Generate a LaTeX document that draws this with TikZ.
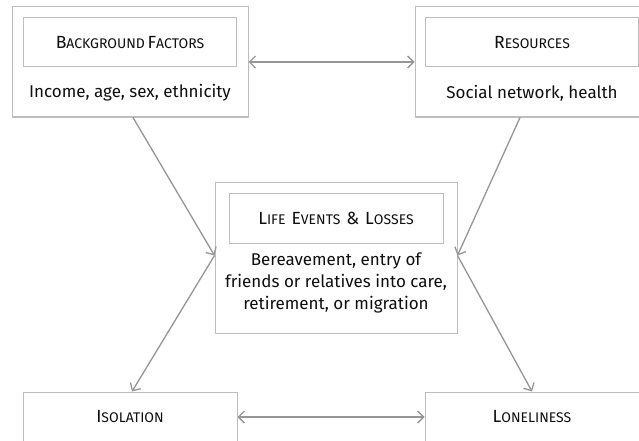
\documentclass[tikz,border=0pt]{standalone}
\usepackage{fontspec}
\setmainfont{Fira Sans}
\usetikzlibrary{arrows.meta}

\definecolor{boxgray}{RGB}{190,190,190}
\definecolor{arrowgray}{RGB}{150,150,150}
\definecolor{inkgray}{RGB}{15,15,15}

% fake small caps for the headings
\newcommand{\hcap}[2]{{\fontsize{17.6}{18}\selectfont #1}{\fontsize{14}{18}\selectfont #2}}

\begin{document}
\begin{tikzpicture}[x=1pt, y=-1pt, thick,
  outer/.style = {draw=boxgray, line width=1pt, rectangle, minimum width=236pt, minimum height=110pt},
  title/.style = {draw=boxgray, line width=1pt, rectangle, minimum width=213pt, minimum height=49pt, text=inkgray},
  body/.style = {align=center, text=inkgray, font=\fontsize{17}{22}\selectfont},
  link/.style = {draw=arrowgray, line width=1.3pt, -{Straight Barb[length=6pt,width=12pt]}},
  both/.style = {link, {Straight Barb[length=6pt,width=12pt]}-{Straight Barb[length=6pt,width=12pt]}}]
\useasboundingbox (0,0) rectangle (639,441);
\fill[white] (0,0) rectangle (639,441);

% top row
\node[outer] (bg) at (130,62) {};
\node[title] (bgt) at (130,42.5) {\hcap{B}{ACKGROUND} \hcap{F}{ACTORS}};
\node[body] (bgx) at (130,93) {Income, age, sex, ethnicity};

\node[outer] (res) at (533,62) {};
\node[title] (rest) at (532,42.5) {\hcap{R}{ESOURCES}};
\node[body] (resx) at (532,93) {Social network, health};

% middle
\node[outer, minimum width=242pt, minimum height=151pt] (life) at (336,257.5) {};
\node[title, minimum width=214pt, minimum height=50pt] (lifet) at (336,218) {\hcap{L}{IFE}\hspace{6pt}\hcap{E}{VENTS}\hspace{6pt}\hcap{\&}{}\hspace{6pt}\hcap{L}{OSSES}};
\node[body] (lifex) at (336,283) {Bereavement, entry of\\friends or relatives into care,\\retirement, or migration};

% bottom row
\node[title, minimum width=214pt, minimum height=50pt] (iso) at (130,417) {\hcap{I}{SOLATION}};
\node[title, minimum width=214pt, minimum height=50pt] (lon) at (532,417) {\hcap{L}{ONELINESS}};

% connectors
\draw[both] (bg.east) -- (res.west);
\draw[both] (iso.east) -- (lon.west);
\draw[link] ([xshift=3pt]bg.south) -- ([yshift=2pt]life.west);
\draw[link] ([xshift=-13pt]res.south) -- ([yshift=2pt]life.east);
\draw[link] ([yshift=2pt]life.west) -- ([xshift=2pt]iso.north);
\draw[link] ([yshift=2pt]life.east) -- (lon.north);
\end{tikzpicture}
\end{document}
